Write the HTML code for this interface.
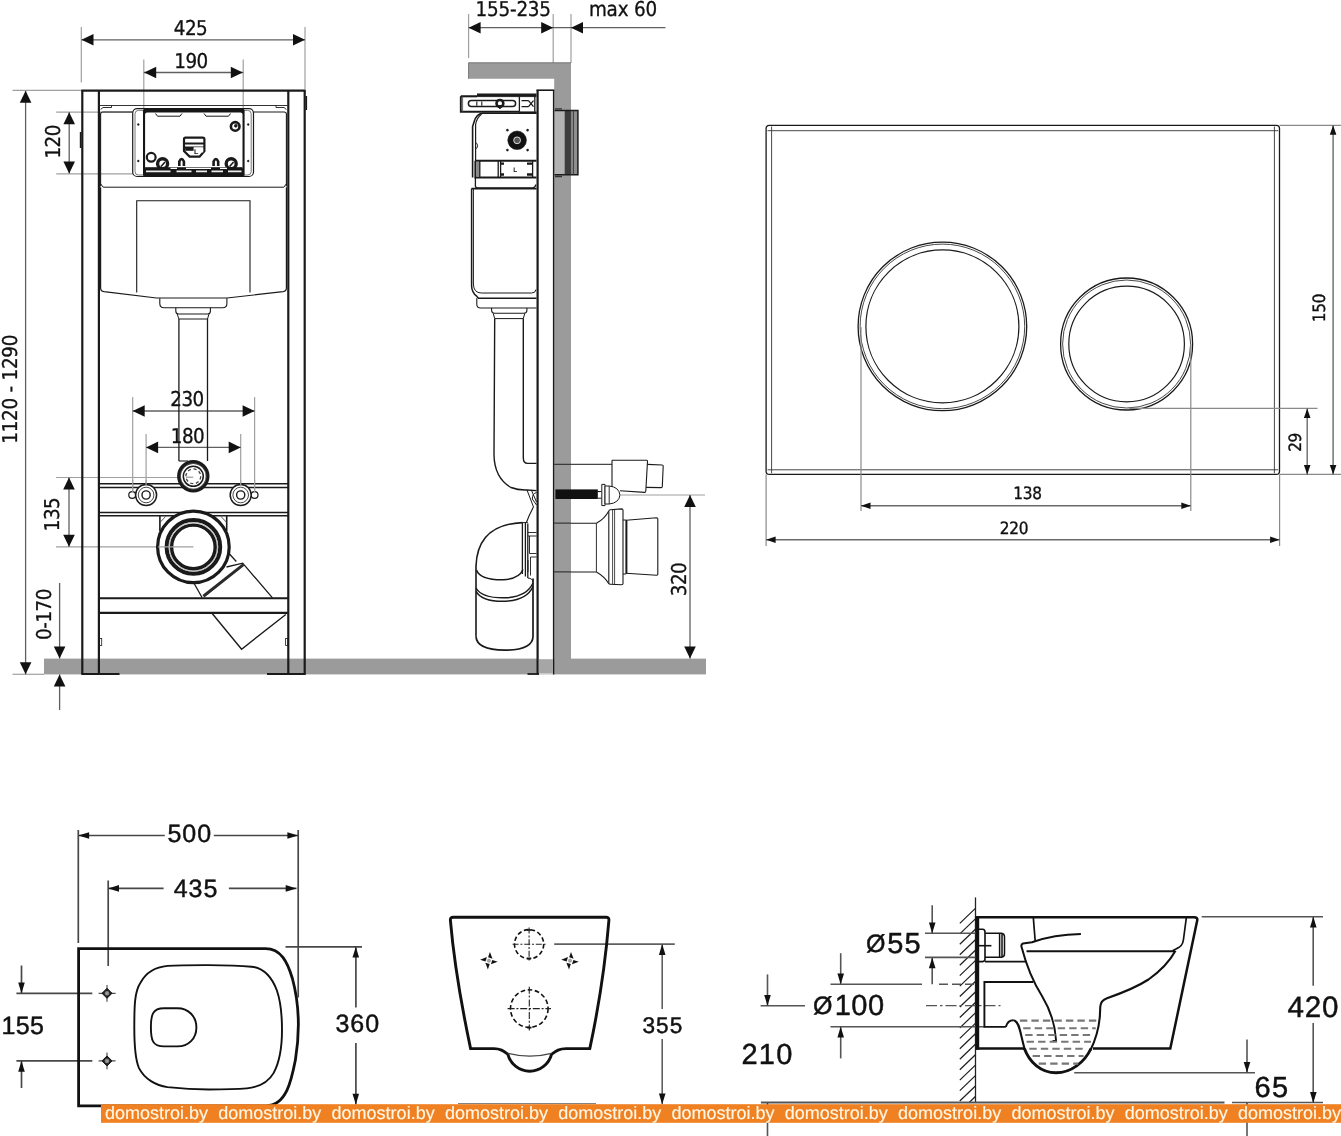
<!DOCTYPE html>
<html lang="en"><head><meta charset="utf-8"><style>html,body{margin:0;padding:0;background:#fff;overflow:hidden}svg{display:block;will-change:transform}text{text-rendering:geometricPrecision}</style>
</head><body>
<svg width="1341" height="1136" viewBox="0 0 1341 1136">
<rect width="1341" height="1136" fill="#fff"/>
<!-- front view of installation frame -->
<rect x="44" y="658.6" width="662" height="15.8" fill="#9b9b9b"/>
<line x1="81.3" y1="27" x2="81.3" y2="82.5" stroke="#a0a0a0" stroke-width="1.2"/>
<line x1="305" y1="27" x2="305" y2="89" stroke="#a0a0a0" stroke-width="1.2"/>
<line x1="143.8" y1="59.5" x2="143.8" y2="110" stroke="#a0a0a0" stroke-width="1.2"/>
<line x1="243.2" y1="59.5" x2="243.2" y2="110" stroke="#a0a0a0" stroke-width="1.2"/>
<line x1="81.6" y1="39.8" x2="305" y2="39.8" stroke="#606060" stroke-width="1.3"/>
<polygon points="81.5,39.8 93.5,34 93.5,45.6" fill="#111"/>
<polygon points="305,39.8 293,34 293,45.6" fill="#111"/>
<line x1="143.8" y1="72.5" x2="243.2" y2="72.5" stroke="#606060" stroke-width="1.3"/>
<polygon points="144.2,72.5 156.2,66.7 156.2,78.3" fill="#111"/>
<polygon points="242.8,72.5 230.8,66.7 230.8,78.3" fill="#111"/>
<text x="190.5" y="34.5" font-family='"DejaVu Sans Condensed", "Liberation Sans", sans-serif' font-size="20.4" text-anchor="middle" fill="#111"  stroke="#111" stroke-width="0.3" letter-spacing="-0.5">425</text>
<text x="191" y="67.5" font-family='"DejaVu Sans Condensed", "Liberation Sans", sans-serif' font-size="20.4" text-anchor="middle" fill="#111"  stroke="#111" stroke-width="0.3" letter-spacing="-0.5">190</text>
<line x1="12.5" y1="90.3" x2="82" y2="90.3" stroke="#a0a0a0" stroke-width="1.2"/>
<line x1="12.5" y1="674.3" x2="44" y2="674.3" stroke="#a0a0a0" stroke-width="1.2"/>
<line x1="25.6" y1="90.8" x2="25.6" y2="674.3" stroke="#606060" stroke-width="1.3"/>
<polygon points="25.6,90.8 19.8,102.8 31.4,102.8" fill="#111"/>
<polygon points="25.6,674.3 19.8,662.3 31.4,662.3" fill="#111"/>
<text x="17.4" y="389.3" font-family='"DejaVu Sans Condensed", "Liberation Sans", sans-serif' font-size="20.4" text-anchor="middle" fill="#111" transform="rotate(-90 17.4 389.3)"  stroke="#111" stroke-width="0.3" letter-spacing="-0.25">1120 - 1290</text>
<line x1="56.2" y1="112.1" x2="134" y2="112.1" stroke="#a0a0a0" stroke-width="1.2"/>
<line x1="56.2" y1="173.8" x2="134" y2="173.8" stroke="#a0a0a0" stroke-width="1.2"/>
<line x1="69.2" y1="112.2" x2="69.2" y2="173.6" stroke="#606060" stroke-width="1.3"/>
<polygon points="69.2,112.2 63.4,124.2 75,124.2" fill="#111"/>
<polygon points="69.2,173.6 63.4,161.6 75,161.6" fill="#111"/>
<text x="60.1" y="141.8" font-family='"DejaVu Sans Condensed", "Liberation Sans", sans-serif' font-size="20.4" text-anchor="middle" fill="#111" transform="rotate(-90 60.1 141.8)"  stroke="#111" stroke-width="0.3" letter-spacing="-0.5">120</text>
<line x1="132.7" y1="397" x2="132.7" y2="493" stroke="#a0a0a0" stroke-width="1.2"/>
<line x1="254.6" y1="397" x2="254.6" y2="493" stroke="#a0a0a0" stroke-width="1.2"/>
<line x1="146.1" y1="434" x2="146.1" y2="486" stroke="#a0a0a0" stroke-width="1.2"/>
<line x1="240.7" y1="434" x2="240.7" y2="486" stroke="#a0a0a0" stroke-width="1.2"/>
<line x1="132.7" y1="411" x2="254.6" y2="411" stroke="#606060" stroke-width="1.3"/>
<polygon points="132.7,411 144.7,405.2 144.7,416.8" fill="#111"/>
<polygon points="254.6,411 242.6,405.2 242.6,416.8" fill="#111"/>
<line x1="146.1" y1="447.4" x2="240.7" y2="447.4" stroke="#606060" stroke-width="1.3"/>
<polygon points="146.1,447.4 158.1,441.6 158.1,453.2" fill="#111"/>
<polygon points="240.7,447.4 228.7,441.6 228.7,453.2" fill="#111"/>
<text x="187" y="405.5" font-family='"DejaVu Sans Condensed", "Liberation Sans", sans-serif' font-size="20.4" text-anchor="middle" fill="#111"  stroke="#111" stroke-width="0.3" letter-spacing="-0.5">230</text>
<text x="187.5" y="442.5" font-family='"DejaVu Sans Condensed", "Liberation Sans", sans-serif' font-size="20.4" text-anchor="middle" fill="#111"  stroke="#111" stroke-width="0.3" letter-spacing="-0.5">180</text>
<line x1="56" y1="477.5" x2="178" y2="477.5" stroke="#a0a0a0" stroke-width="1.2"/>
<line x1="56" y1="546.8" x2="193.4" y2="546.8" stroke="#a0a0a0" stroke-width="1.2"/>
<line x1="69" y1="477.5" x2="69" y2="546.8" stroke="#606060" stroke-width="1.3"/>
<polygon points="69,477.5 63.2,489.5 74.8,489.5" fill="#111"/>
<polygon points="69,546.8 63.2,534.8 74.8,534.8" fill="#111"/>
<text x="59" y="514.5" font-family='"DejaVu Sans Condensed", "Liberation Sans", sans-serif' font-size="20.4" text-anchor="middle" fill="#111" transform="rotate(-90 59 514.5)"  stroke="#111" stroke-width="0.3" letter-spacing="-0.5">135</text>
<line x1="59.6" y1="583" x2="59.6" y2="658.6" stroke="#606060" stroke-width="1.3"/>
<polygon points="59.6,658.6 53.8,646.6 65.4,646.6" fill="#111"/>
<line x1="59.6" y1="674.4" x2="59.6" y2="710" stroke="#606060" stroke-width="1.3"/>
<polygon points="59.6,674.4 53.8,686.4 65.4,686.4" fill="#111"/>
<text x="50.5" y="614.5" font-family='"DejaVu Sans Condensed", "Liberation Sans", sans-serif' font-size="20.4" text-anchor="middle" fill="#111" transform="rotate(-90 50.5 614.5)"  stroke="#111" stroke-width="0.3" letter-spacing="-0.5">0-170</text>
<line x1="82.3" y1="90.7" x2="82.3" y2="674.5" stroke="#1a1a1a" stroke-width="2.2"/>
<line x1="98.9" y1="91" x2="98.9" y2="674.5" stroke="#1a1a1a" stroke-width="2.2"/>
<line x1="288.3" y1="91" x2="288.3" y2="674.5" stroke="#1a1a1a" stroke-width="2.2"/>
<line x1="304.7" y1="90.7" x2="304.7" y2="674.5" stroke="#1a1a1a" stroke-width="2.2"/>
<line x1="81.3" y1="90.7" x2="305.7" y2="90.7" stroke="#1a1a1a" stroke-width="2.2"/>
<line x1="81.4" y1="674" x2="119.5" y2="674" stroke="#1a1a1a" stroke-width="1.8"/>
<line x1="267" y1="674" x2="305.6" y2="674" stroke="#1a1a1a" stroke-width="1.8"/>
<line x1="306.3" y1="96" x2="306.3" y2="110" stroke="#1a1a1a" stroke-width="1.6"/>
<line x1="80.6" y1="132" x2="80.6" y2="148" stroke="#1a1a1a" stroke-width="1.6"/>
<rect x="99.5" y="638.5" width="2.2" height="7" rx="0" fill="none" stroke="#1a1a1a" stroke-width="0.8"/>
<rect x="285.6" y="638.5" width="2.2" height="7" rx="0" fill="none" stroke="#1a1a1a" stroke-width="0.8"/>
<line x1="99.5" y1="105.5" x2="287.7" y2="105.5" stroke="#333" stroke-width="1.2"/>
<path d="M100.6,186.5 V114 Q100.6,112 103,112 H132.7" fill="none" stroke="#1a1a1a" stroke-width="1.1"/>
<path d="M253.5,112 H284 Q286.4,112 286.4,114 V186.5" fill="none" stroke="#1a1a1a" stroke-width="1.1"/>
<path d="M100.6,109.5 L103,107.5 H111.5 V105.3 M286.4,109.5 L284,107.5 H276 V105.3" fill="none" stroke="#1a1a1a" stroke-width="0.9"/>
<path d="M100.6,183.8 L103.2,187.2 H283.8 L286.4,183.8" fill="none" stroke="#1a1a1a" stroke-width="1"/>
<rect x="132.7" y="108.7" width="120.8" height="67.8" rx="4.5" fill="#fff" stroke="#1a1a1a" stroke-width="1.2"/>
<rect x="135" y="110.4" width="116.2" height="64.6" rx="3.5" fill="none" stroke="#555" stroke-width="0.8"/>
<rect x="143" y="108.6" width="101.6" height="68.2" rx="2.6" fill="#161616"/>
<rect x="145.1" y="112.4" width="97.4" height="57" rx="2" fill="#fff"/>
<path d="M155.5,113.5 L157.5,116.2 H180 L182,113.5 M204,113.5 L206,116.2 H228.5 L230.5,113.5" fill="none" stroke="#1a1a1a" stroke-width="1"/>
<circle cx="138.3" cy="124.5" r="0.9" fill="#1a1a1a" stroke="#1a1a1a" stroke-width="0.5"/>
<circle cx="138.3" cy="161" r="0.9" fill="#1a1a1a" stroke="#1a1a1a" stroke-width="0.5"/>
<circle cx="248.2" cy="124.5" r="0.9" fill="#1a1a1a" stroke="#1a1a1a" stroke-width="0.5"/>
<circle cx="248.2" cy="161" r="0.9" fill="#1a1a1a" stroke="#1a1a1a" stroke-width="0.5"/>
<circle cx="235.2" cy="126.4" r="4.3" fill="#fff" stroke="#1a1a1a" stroke-width="2.6"/>
<circle cx="235.8" cy="125.8" r="1.4" fill="#1a1a1a" stroke="#1a1a1a" stroke-width="0.8"/>
<circle cx="151.2" cy="157.3" r="4.4" fill="#fff" stroke="#1a1a1a" stroke-width="2.2"/>
<circle cx="162.6" cy="163.8" r="5" fill="#fff" stroke="#1a1a1a" stroke-width="3.4"/>
<circle cx="231.2" cy="163.8" r="5" fill="#fff" stroke="#1a1a1a" stroke-width="3.4"/>
<path d="M161,166.5 L165,162 M229.6,166.5 L233.6,162" fill="none" stroke="#1a1a1a" stroke-width="1.6"/>
<path d="M179.3,166 V161.5 Q181.6,156.5 183.9,161.5 V166 M213.6,166 V161.5 Q215.9,156.5 218.2,161.5 V166" fill="none" stroke="#1a1a1a" stroke-width="2.6"/>
<rect x="145.1" y="167.2" width="97.4" height="3" fill="#161616"/>
<path d="M146,171.4 H170.5 M176.5,171.4 H191.5 M196,171.4 H207 M211.5,171.4 H223 M228,171.4 H241.5" fill="none" stroke="#eee" stroke-width="1.7"/>
<path d="M170.5,168.4 H177 M186,168.4 H211 M220,168.4 H227" fill="none" stroke="#fff" stroke-width="1.4"/>
<path d="M185.6,137.6 H202.8 Q204.4,137.6 204.4,139.2 V151 L199.6,156.6 H189.6 L184,151 V139.2 Q184,137.6 185.6,137.6 Z" fill="#fff" stroke="#1a1a1a" stroke-width="2.2"/>
<path d="M184,143.4 H204.4 M184,147.6 H204.4" fill="none" stroke="#1a1a1a" stroke-width="2"/>
<rect x="185.2" y="147.6" width="18" height="3.2" fill="#1a1a1a"/>
<rect x="193.6" y="147.2" width="9.6" height="5.2" fill="#fff"/>
<text x="196.2" y="153.8" font-family='"Liberation Sans", sans-serif' font-size="7" text-anchor="middle" fill="#111" font-weight="bold">L</text>
<path d="M100.6,187.2 V288 Q100.6,291.2 104,291.7 L156.5,298 H227 L283,291.7 Q286.4,291.2 286.4,288 V187.2" fill="none" stroke="#1a1a1a" stroke-width="1.2"/>
<path d="M136.7,292.5 V200.8 H250 V292.5" fill="none" stroke="#1a1a1a" stroke-width="1.1"/>
<path d="M159.8,298.2 V303.5 Q159.8,307.7 164,307.7 H222.7 Q226.9,307.7 226.9,303.5 V298.2" fill="none" stroke="#1a1a1a" stroke-width="1.1"/>
<path d="M175.8,307.7 V311 Q175.8,314 178.6,314 H207.6 Q210.4,314 210.4,311 V307.7" fill="none" stroke="#1a1a1a" stroke-width="1.1"/>
<path d="M177.2,314 L178.9,319 H207.5 L209,314" fill="none" stroke="#1a1a1a" stroke-width="1"/>
<line x1="178.9" y1="319" x2="178.9" y2="461" stroke="#1a1a1a" stroke-width="1.3"/>
<line x1="207.5" y1="319" x2="207.5" y2="461" stroke="#1a1a1a" stroke-width="1.3"/>
<line x1="178.9" y1="461" x2="188" y2="461" stroke="#1a1a1a" stroke-width="1.1"/>
<line x1="99" y1="483.8" x2="288" y2="483.8" stroke="#1a1a1a" stroke-width="1.5"/>
<line x1="99" y1="487.6" x2="288" y2="487.6" stroke="#1a1a1a" stroke-width="1.5"/>
<line x1="99" y1="512.6" x2="288" y2="512.6" stroke="#1a1a1a" stroke-width="1.5"/>
<line x1="99" y1="515.8" x2="288" y2="515.8" stroke="#1a1a1a" stroke-width="1.5"/>
<circle cx="193.3" cy="476.3" r="14.3" fill="#fff" stroke="#1a1a1a" stroke-width="3.8"/>
<circle cx="193.3" cy="476.3" r="12.9" fill="none" stroke="#888" stroke-width="0.5"/>
<circle cx="193.3" cy="476.3" r="10" fill="none" stroke="#1a1a1a" stroke-width="1.5"/>
<circle cx="193.3" cy="476.3" r="7.4" fill="none" stroke="#444" stroke-width="1.3" stroke-dasharray="3.2 2.6"/>
<line x1="186" y1="477.2" x2="193.3" y2="477.2" stroke="#777" stroke-width="0.9"/>
<circle cx="132.2" cy="495" r="3.4" fill="#fff" stroke="#1a1a1a" stroke-width="1.2"/>
<circle cx="146.1" cy="495" r="10.5" fill="#fff" stroke="#1a1a1a" stroke-width="1.5"/>
<circle cx="146.1" cy="495" r="7.8" fill="none" stroke="#333" stroke-width="0.9"/>
<circle cx="146.1" cy="495" r="4.1" fill="none" stroke="#1a1a1a" stroke-width="1.4"/>
<circle cx="254.6" cy="495" r="3.4" fill="#fff" stroke="#1a1a1a" stroke-width="1.2"/>
<circle cx="240.7" cy="495" r="10.5" fill="#fff" stroke="#1a1a1a" stroke-width="1.5"/>
<circle cx="240.7" cy="495" r="7.8" fill="none" stroke="#333" stroke-width="0.9"/>
<circle cx="240.7" cy="495" r="4.1" fill="none" stroke="#1a1a1a" stroke-width="1.4"/>
<line x1="132.7" y1="480" x2="132.7" y2="492" stroke="#a0a0a0" stroke-width="1.2"/>
<line x1="254.6" y1="480" x2="254.6" y2="492" stroke="#a0a0a0" stroke-width="1.2"/>
<line x1="146.1" y1="480" x2="146.1" y2="486" stroke="#a0a0a0" stroke-width="1.2"/>
<line x1="240.7" y1="480" x2="240.7" y2="486" stroke="#a0a0a0" stroke-width="1.2"/>
<path d="M159.9,516 V531 M226.7,516 V531" fill="none" stroke="#1a1a1a" stroke-width="1.6"/>
<path d="M221,516.5 L226.7,522.5 M165.6,516.5 L159.9,522.5" fill="none" stroke="#444" stroke-width="0.9"/>
<path d="M229.5,554 L236.3,561.5 M226.5,567 L242.7,563.2 L272.5,597.8 M194.3,583.8 L202.2,597.8" fill="none" stroke="#1a1a1a" stroke-width="1.3"/>
<path d="M203.4,596.2 L243.4,564.6" fill="none" stroke="#2a2a2a" stroke-width="3"/>
<path d="M212,613.3 L241.6,649.2 L285.8,614.5" fill="none" stroke="#1a1a1a" stroke-width="1.4"/>
<circle cx="193.4" cy="546.9" r="35.8" fill="#fff" stroke="#1a1a1a" stroke-width="3.2"/>
<circle cx="193.4" cy="546.9" r="26.8" fill="none" stroke="#1a1a1a" stroke-width="4"/>
<circle cx="193.4" cy="546.9" r="24.3" fill="none" stroke="#aaa" stroke-width="0.8"/>
<circle cx="193.4" cy="546.9" r="21.8" fill="none" stroke="#1a1a1a" stroke-width="3.4"/>
<line x1="158" y1="546.9" x2="193.4" y2="546.9" stroke="#a0a0a0" stroke-width="1.2"/>
<line x1="99" y1="598.2" x2="288" y2="598.2" stroke="#1a1a1a" stroke-width="2.1"/>
<line x1="99" y1="612.9" x2="288" y2="612.9" stroke="#1a1a1a" stroke-width="2.2"/>
<!-- side view of installation frame -->
<line x1="468.6" y1="14" x2="468.6" y2="58" stroke="#a0a0a0" stroke-width="1.2"/>
<line x1="553.2" y1="14" x2="553.2" y2="63" stroke="#a0a0a0" stroke-width="1.2"/>
<line x1="571" y1="14" x2="571" y2="63" stroke="#a0a0a0" stroke-width="1.2"/>
<line x1="468.6" y1="27.7" x2="665.5" y2="27.7" stroke="#606060" stroke-width="1.3"/>
<polygon points="468.6,27.7 480.6,21.9 480.6,33.5" fill="#111"/>
<polygon points="553.2,27.7 541.2,21.9 541.2,33.5" fill="#111"/>
<polygon points="571,27.7 583,21.9 583,33.5" fill="#111"/>
<text x="513.2" y="16" font-family='"DejaVu Sans Condensed", "Liberation Sans", sans-serif' font-size="20.4" text-anchor="middle" fill="#111"  stroke="#111" stroke-width="0.3" letter-spacing="-0.2">155-235</text>
<text x="623" y="16" font-family='"DejaVu Sans Condensed", "Liberation Sans", sans-serif' font-size="20.4" text-anchor="middle" fill="#111"  stroke="#111" stroke-width="0.3" letter-spacing="-0.15">max 60</text>
<path d="M468.6,62.8 H571 V659 H554.2 V78.8 H468.6 Z" fill="#9b9b9b" stroke="none" stroke-width="0"/>
<path d="M468.6,78.8 V62.8 H571" fill="none" stroke="#777" stroke-width="1"/>
<rect x="554.6" y="110.5" width="10.6" height="64" fill="#b2b2b2"/>
<rect x="565.2" y="110.5" width="5.4" height="64" fill="#3c3c3c"/>
<rect x="570.6" y="110.5" width="7.2" height="64" fill="#8e8e8e"/>
<path d="M554.6,110.6 H577.9 V174.7 H554.6" fill="none" stroke="#1a1a1a" stroke-width="1.5"/>
<path d="M565.2,110.3 V174.8 M570.6,110.3 V174.8 M573.4,110.3 V174.8" fill="none" stroke="#333" stroke-width="0.9"/>
<path d="M555,108.8 H562 M555,176.5 H562" fill="none" stroke="#333" stroke-width="1.3"/>
<path d="M554.2,464.3 H571 M554.2,523.2 H571 M554.2,571.8 H571" fill="none" stroke="#3a3a3a" stroke-width="1.3"/>
<rect x="537" y="90.2" width="16.6" height="584" fill="#fff"/>
<line x1="537.6" y1="90" x2="537.6" y2="674.5" stroke="#1a1a1a" stroke-width="2.2"/>
<line x1="553.6" y1="90" x2="553.6" y2="674.5" stroke="#1a1a1a" stroke-width="1.4"/>
<line x1="536.5" y1="90.2" x2="554.3" y2="90.2" stroke="#1a1a1a" stroke-width="1.6"/>
<line x1="527.5" y1="674" x2="539" y2="674" stroke="#1a1a1a" stroke-width="1.8"/>
<rect x="539" y="659.2" width="14" height="14.4" fill="#a6a6a6"/>
<path d="M477,94.8 H536.5" fill="none" stroke="#1a1a1a" stroke-width="2.6"/>
<path d="M460.8,96.3 H477 M460.8,96.3 V111.7 H519" fill="none" stroke="#1a1a1a" stroke-width="1.9"/>
<path d="M519,112.6 H536.5" fill="none" stroke="#1a1a1a" stroke-width="2.4"/>
<path d="M460.8,96.6 H536.5" fill="none" stroke="#1a1a1a" stroke-width="1"/>
<path d="M462.6,96.6 V111.7" fill="none" stroke="#555" stroke-width="0.9"/>
<rect x="468.4" y="100.6" width="47.2" height="6" rx="3" fill="none" stroke="#1a1a1a" stroke-width="1.5"/>
<path d="M476.8,101.5 V105.8 M481.8,101.5 V105.8" fill="none" stroke="#1a1a1a" stroke-width="1.1"/>
<circle cx="499.9" cy="103.4" r="3.4" fill="#fff" stroke="#1a1a1a" stroke-width="2.6"/>
<path d="M497.4,105.5 L499.9,109 L502.4,105.5 Z" fill="#1a1a1a" stroke="#1a1a1a" stroke-width="0.8"/>
<path d="M519.4,96.3 V111.7 M521.5,100.6 H528.5 M521.5,106.6 H528.5 M528.5,100.6 L533.5,106.6 M528.5,106.6 L533.5,100.6 M534.8,96.3 V111.7" fill="none" stroke="#1a1a1a" stroke-width="1.3"/>
<path d="M536.5,113.3 H482.5 Q476.5,114 474.2,121.5 L472.6,126.5 V177.5" fill="none" stroke="#1a1a1a" stroke-width="1.6"/>
<path d="M481.5,114.2 Q476.8,117.5 475.6,124.5 V160.8" fill="none" stroke="#1a1a1a" stroke-width="1.2"/>
<path d="M475.4,142.5 Q477.6,143.2 477.6,145.8 Q477.6,148.4 475.4,149" fill="none" stroke="#1a1a1a" stroke-width="0.9"/>
<circle cx="517.1" cy="140.3" r="9.3" fill="#111" stroke="#1a1a1a" stroke-width="0.6"/>
<circle cx="517.1" cy="140.3" r="3.4" fill="#555" stroke="#ddd" stroke-width="1"/>
<circle cx="507.4" cy="130.2" r="1.1" fill="#1a1a1a" stroke="#1a1a1a" stroke-width="0.4"/>
<circle cx="527.6" cy="130.2" r="1.1" fill="#1a1a1a" stroke="#1a1a1a" stroke-width="0.4"/>
<circle cx="507.4" cy="150.1" r="1.1" fill="#1a1a1a" stroke="#1a1a1a" stroke-width="0.4"/>
<circle cx="527.6" cy="150.1" r="1.1" fill="#1a1a1a" stroke="#1a1a1a" stroke-width="0.4"/>
<path d="M475.4,160.8 H536.5 M475.4,160.8 V177.4 H536.5" fill="none" stroke="#1a1a1a" stroke-width="2"/>
<rect x="476.2" y="161.8" width="3.4" height="14.8" fill="#888"/>
<path d="M479.8,161 V177.2 M498.2,161 V177.2 M500.6,161 V177.2 M532.6,161 V177.2" fill="none" stroke="#1a1a1a" stroke-width="1.3"/>
<path d="M500.6,163.6 H504 M500.6,174.5 H504 M527,163.6 H532.6 M527,174.5 H532.6" fill="none" stroke="#1a1a1a" stroke-width="2.4"/>
<text x="515.2" y="171.6" font-family='"Liberation Sans", sans-serif' font-size="6.5" text-anchor="middle" fill="#111" font-weight="bold">L</text>
<path d="M475.4,177.4 V186 Q475.4,187.8 477.5,187.8 H533 Q535.6,187.3 535.8,184.5" fill="none" stroke="#1a1a1a" stroke-width="1.3"/>
<path d="M471.6,188.6 H536.5" fill="none" stroke="#1a1a1a" stroke-width="1.6"/>
<path d="M471.6,188.6 V286 Q471.8,292.5 476.7,296.2 L478.5,298.3 H536.5" fill="none" stroke="#1a1a1a" stroke-width="1.5"/>
<path d="M473.4,189 V284 Q473.6,293 481.5,293 H531.5 Q535.6,293 536,289.5" fill="none" stroke="#1a1a1a" stroke-width="1"/>
<path d="M476.8,298.3 V304.5 Q477,308 480.5,308 H536.5" fill="none" stroke="#1a1a1a" stroke-width="1.1"/>
<path d="M491.6,308 V310.5 Q491.8,313.3 494.7,313.3 H523.8 Q526.7,313.3 526.9,310.5 V308" fill="none" stroke="#1a1a1a" stroke-width="1.1"/>
<path d="M493.2,313.3 L494.7,318.6 H523.3 L524.8,313.3" fill="none" stroke="#1a1a1a" stroke-width="1"/>
<path d="M494.7,318.6 L494,455 Q494.5,478 511,487.5 Q518,490.3 527,490 L536.5,490.6" fill="none" stroke="#1a1a1a" stroke-width="1.4"/>
<path d="M523.3,318.6 V458 Q523.4,463.3 527.5,463.4 H536.5" fill="none" stroke="#1a1a1a" stroke-width="1.4"/>
<path d="M527,490 L533.5,507 M531.5,490.4 L536.5,502" fill="none" stroke="#1a1a1a" stroke-width="1"/>
<path d="M536.5,492.5 Q532.3,493.5 532.3,499 L536.5,505" fill="none" stroke="#1a1a1a" stroke-width="1"/>
<path d="M533.5,507 Q529.5,514 526.5,522.3" fill="none" stroke="#1a1a1a" stroke-width="1.1"/>
<path d="M522.4,522.6 Q477.5,524.5 476,566 V636.4" fill="none" stroke="#1a1a1a" stroke-width="1.6"/>
<path d="M476,636.4 Q476.5,649.8 504.5,650.2 Q532.8,649.8 533,636.4 V578.5" fill="none" stroke="#1a1a1a" stroke-width="1.7"/>
<path d="M522.4,522.6 V574 M525.4,522.6 V576.5 M527.8,523.5 V578" fill="none" stroke="#1a1a1a" stroke-width="1.3"/>
<path d="M522.4,522.6 H527.8" fill="none" stroke="#1a1a1a" stroke-width="1"/>
<path d="M476.5,570 Q480,580 503,579.8 Q519,579 523,569.5" fill="none" stroke="#1a1a1a" stroke-width="1.5"/>
<path d="M476,588 Q482,598.5 506,597.8 Q527,596.5 533,583" fill="none" stroke="#1a1a1a" stroke-width="1.5"/>
<path d="M476,591.3 Q482,602 506,601.2 Q527,600 533,586.5" fill="none" stroke="#1a1a1a" stroke-width="1.5"/>
<path d="M527.8,578 Q532.5,578.3 533,582" fill="none" stroke="#1a1a1a" stroke-width="1"/>
<path d="M527.8,532.5 H536.5 M527.8,536 H536.5 M529.5,536 V553.5 H536.5 M530.5,557 H536.5 M530.5,557 V575.5 M528,560 V572" fill="none" stroke="#1a1a1a" stroke-width="0.9"/>
<path d="M571,464.3 H612 M571,491.6 H600" fill="none" stroke="#1a1a1a" stroke-width="1"/>
<path d="M612,460.2 H646.6 Q647.6,460.3 647.5,461.4 L645.8,491 Q645.7,492.4 644.6,492.4 L620,490.8 M612,460.2 V487" fill="none" stroke="#1a1a1a" stroke-width="1.1"/>
<path d="M647.3,464.4 L662.2,465 Q663.2,465 663.2,466.3 L662.3,486.5 Q662.2,487.6 661.2,487.6 L646.1,487.4" fill="none" stroke="#1a1a1a" stroke-width="1.1"/>
<rect x="555.4" y="489.4" width="42.4" height="9.6" fill="#111"/>
<path d="M597.8,491.5 H601.5 M597.8,498.2 H601.5" fill="none" stroke="#1a1a1a" stroke-width="1"/>
<path d="M601.8,484.4 H605 V505.6 H601.8 Z" fill="#fff" stroke="#1a1a1a" stroke-width="1"/>
<path d="M605,486 H609.2 Q619,487 620,495 Q619,503 609.2,504 H605 Z" fill="#fff" stroke="#1a1a1a" stroke-width="1"/>
<path d="M609.2,486 V504" fill="none" stroke="#1a1a1a" stroke-width="0.9"/>
<line x1="620" y1="495" x2="705" y2="495" stroke="#a0a0a0" stroke-width="1.2"/>
<line x1="690" y1="495" x2="690" y2="658.6" stroke="#606060" stroke-width="1.3"/>
<polygon points="690,495 684.2,507 695.8,507" fill="#111"/>
<polygon points="690,658.6 684.2,646.6 695.8,646.6" fill="#111"/>
<text x="685.5" y="579.5" font-family='"DejaVu Sans Condensed", "Liberation Sans", sans-serif' font-size="20.4" text-anchor="middle" fill="#111" transform="rotate(-90 685.5 579.5)"  stroke="#111" stroke-width="0.3" letter-spacing="-0.5">320</text>
<path d="M571,523.3 H596.4 M571,572 H596.4" fill="none" stroke="#1a1a1a" stroke-width="1.1"/>
<path d="M596.4,523.3 V572" fill="none" stroke="#1a1a1a" stroke-width="0.9"/>
<path d="M596.4,523.3 Q604.5,519 608.8,511 M596.4,572 Q604.5,576.5 608.8,583.8" fill="none" stroke="#1a1a1a" stroke-width="1.1"/>
<path d="M608.8,511 Q609,509.8 610.3,509.7 L621.6,508.9 Q623,508.9 623,510.2 V583.6 Q623,584.8 621.6,584.8 L610.3,584.3 Q609,584.3 608.8,583.2 Z" fill="#fff" stroke="#1a1a1a" stroke-width="1.1"/>
<path d="M612.6,509.6 V584.3 M614.6,509.5 V584.4" fill="none" stroke="#1a1a1a" stroke-width="0.8"/>
<path d="M623,520 H626 V574 H623" fill="none" stroke="#1a1a1a" stroke-width="1"/>
<path d="M626,520.3 L656.6,517.8 Q657.8,517.8 657.8,519 V574 Q657.8,575.3 656.6,575.2 L626,573.3" fill="none" stroke="#1a1a1a" stroke-width="1.1"/>
<line x1="626.6" y1="520.3" x2="626.6" y2="573.5" stroke="#1a1a1a" stroke-width="1.6"/>
<!-- flush plate -->
<rect x="766.1" y="125.3" width="513.4" height="349.1" rx="3.2" fill="none" stroke="#1a1a1a" stroke-width="1.3"/>
<path d="M767.5,130.7 H1278.2 M767.5,469.8 H1278.2 M771.6,126.5 V473.2 M1274.4,126.5 V473.2" fill="none" stroke="#333" stroke-width="0.9"/>
<circle cx="942.4" cy="326.4" r="84.3" fill="none" stroke="#1a1a1a" stroke-width="1.3"/>
<circle cx="942.4" cy="326.4" r="82.3" fill="none" stroke="#333" stroke-width="0.9"/>
<circle cx="942.4" cy="326.4" r="76.5" fill="none" stroke="#1a1a1a" stroke-width="1.2"/>
<circle cx="1126.6" cy="344" r="66" fill="none" stroke="#1a1a1a" stroke-width="1.3"/>
<circle cx="1126.6" cy="344" r="64" fill="none" stroke="#333" stroke-width="0.9"/>
<circle cx="1126.6" cy="344" r="57.8" fill="none" stroke="#1a1a1a" stroke-width="1.2"/>
<line x1="861" y1="327" x2="861" y2="511" stroke="#8a8a8a" stroke-width="1.2"/>
<line x1="1190.8" y1="344" x2="1190.8" y2="511" stroke="#8a8a8a" stroke-width="1.2"/>
<line x1="861" y1="505.7" x2="1190.8" y2="505.7" stroke="#6a6a6a" stroke-width="1.4"/>
<polygon points="861,505.7 870.5,502.4 870.5,509" fill="#111"/>
<polygon points="1190.8,505.7 1181.3,502.4 1181.3,509" fill="#111"/>
<text x="1027.5" y="498.8" font-family='"DejaVu Sans Condensed", "Liberation Sans", sans-serif' font-size="17" text-anchor="middle" fill="#111"  stroke="#111" stroke-width="0.35" letter-spacing="-0.3">138</text>
<line x1="766.1" y1="474.4" x2="766.1" y2="546" stroke="#8a8a8a" stroke-width="1.2"/>
<line x1="1279.6" y1="474.4" x2="1279.6" y2="546" stroke="#8a8a8a" stroke-width="1.2"/>
<line x1="766.1" y1="539.8" x2="1279.6" y2="539.8" stroke="#6a6a6a" stroke-width="1.4"/>
<polygon points="766.1,539.8 775.6,536.5 775.6,543.1" fill="#111"/>
<polygon points="1279.6,539.8 1270.1,536.5 1270.1,543.1" fill="#111"/>
<text x="1014" y="534.2" font-family='"DejaVu Sans Condensed", "Liberation Sans", sans-serif' font-size="17" text-anchor="middle" fill="#111"  stroke="#111" stroke-width="0.35" letter-spacing="-0.3">220</text>
<line x1="1279.6" y1="125.3" x2="1341" y2="125.3" stroke="#8a8a8a" stroke-width="1.2"/>
<line x1="1279.6" y1="474.4" x2="1341" y2="474.4" stroke="#8a8a8a" stroke-width="1.2"/>
<line x1="1333.1" y1="125.3" x2="1333.1" y2="474.4" stroke="#6a6a6a" stroke-width="1.4"/>
<polygon points="1333.1,125.3 1329.8,134.8 1336.4,134.8" fill="#111"/>
<polygon points="1333.1,474.4 1329.8,464.9 1336.4,464.9" fill="#111"/>
<text x="1325.3" y="308" font-family='"DejaVu Sans Condensed", "Liberation Sans", sans-serif' font-size="17" text-anchor="middle" fill="#111" transform="rotate(-90 1325.3 308)"  stroke="#111" stroke-width="0.35" letter-spacing="-0.3">150</text>
<line x1="1129" y1="408.4" x2="1317.5" y2="408.4" stroke="#8a8a8a" stroke-width="1.2"/>
<line x1="1307.2" y1="408.4" x2="1307.2" y2="474.4" stroke="#6a6a6a" stroke-width="1.4"/>
<polygon points="1307.2,408.4 1303.9,417.9 1310.5,417.9" fill="#111"/>
<polygon points="1307.2,474.4 1303.9,464.9 1310.5,464.9" fill="#111"/>
<text x="1300.6" y="442.4" font-family='"DejaVu Sans Condensed", "Liberation Sans", sans-serif' font-size="17" text-anchor="middle" fill="#111" transform="rotate(-90 1300.6 442.4)"  stroke="#111" stroke-width="0.35" letter-spacing="-0.3">29</text>
<!-- toilet top view -->
<line x1="78.3" y1="830" x2="78.3" y2="943" stroke="#484848" stroke-width="1.7"/>
<line x1="298.2" y1="830" x2="298.2" y2="997.5" stroke="#484848" stroke-width="1.7"/>
<line x1="108.2" y1="880.5" x2="108.2" y2="966" stroke="#484848" stroke-width="1.7"/>
<line x1="78.3" y1="835.5" x2="164.8" y2="835.5" stroke="#484848" stroke-width="1.7"/>
<line x1="213.8" y1="835.5" x2="298.2" y2="835.5" stroke="#484848" stroke-width="1.7"/>
<polygon points="78.3,835.5 89.1,832.2 89.1,838.8" fill="#111"/>
<polygon points="298.2,835.5 287.4,832.2 287.4,838.8" fill="#111"/>
<text x="189.8" y="842.3" font-family='"Liberation Sans", sans-serif' font-size="25" text-anchor="middle" fill="#111"  stroke="#111" stroke-width="0.45" letter-spacing="1">500</text>
<line x1="108.2" y1="888.4" x2="163.6" y2="888.4" stroke="#484848" stroke-width="1.7"/>
<line x1="228.9" y1="888.4" x2="296.5" y2="888.4" stroke="#484848" stroke-width="1.7"/>
<polygon points="108.2,888.4 119,885.1 119,891.7" fill="#111"/>
<polygon points="296.5,888.4 285.7,885.1 285.7,891.7" fill="#111"/>
<text x="196" y="896.7" font-family='"Liberation Sans", sans-serif' font-size="25" text-anchor="middle" fill="#111"  stroke="#111" stroke-width="0.45" letter-spacing="1">435</text>
<line x1="16.4" y1="993.3" x2="92.3" y2="993.3" stroke="#484848" stroke-width="1.7"/>
<line x1="16.4" y1="1060.9" x2="92.3" y2="1060.9" stroke="#484848" stroke-width="1.7"/>
<line x1="21.5" y1="965.5" x2="21.5" y2="993.3" stroke="#484848" stroke-width="1.7"/>
<polygon points="21.5,993.3 18.2,982.5 24.8,982.5" fill="#111"/>
<line x1="21.5" y1="1060.9" x2="21.5" y2="1088" stroke="#484848" stroke-width="1.7"/>
<polygon points="21.5,1060.9 18.2,1071.7 24.8,1071.7" fill="#111"/>
<text x="22.8" y="1033.9" font-family='"Liberation Sans", sans-serif' font-size="25" text-anchor="middle" fill="#111"  stroke="#111" stroke-width="0.45" letter-spacing="0.3">155</text>
<line x1="285.5" y1="946.8" x2="362" y2="946.8" stroke="#484848" stroke-width="1.7"/>
<line x1="355.9" y1="946.8" x2="355.9" y2="1007.6" stroke="#484848" stroke-width="1.7"/>
<line x1="355.9" y1="1043" x2="355.9" y2="1104.5" stroke="#484848" stroke-width="1.7"/>
<polygon points="355.8,946.8 352.5,957.6 359.1,957.6" fill="#111"/>
<polygon points="355.8,1104.5 352.5,1093.7 359.1,1093.7" fill="#111"/>
<text x="357.8" y="1032.2" font-family='"Liberation Sans", sans-serif' font-size="25" text-anchor="middle" fill="#111"  stroke="#111" stroke-width="0.45" letter-spacing="1">360</text>
<path d="M78.6,948.6 H265.5 C281,948.6 287.5,962 292.4,978.5 C299,1003 300,1032 295.4,1060 C291.5,1080 286.5,1105.8 266,1105.8 H78.6 Z" fill="none" stroke="#111" stroke-width="2.8" stroke-linejoin="miter"/>
<path d="M134.3,1027.5 C134.3,1006 134.5,991.5 140.6,982.5 C146,972.5 156,967 167.5,965.9 C181,965 195,965.1 208.7,965.1 C223,965.1 238,965.3 251.5,966.7 C261.5,967.8 271,975 276.9,990.5 C280.5,1001 282,1015 282,1030 C282,1046 279.5,1062 273.7,1072.9 C268,1083 258,1087.2 246.8,1088.4 C234,1089.5 221,1089.5 208.7,1089.5 C195,1089.5 181,1088.6 167.5,1087.1 C156,1085.5 144.5,1079 139,1068.1 C135,1059 134.3,1045 134.3,1027.5 Z" fill="none" stroke="#111" stroke-width="1.9"/>
<path d="M150.9,1027.3 C150.9,1015 152.5,1008.2 164,1008.2 H177.5 C188.5,1008.2 196.4,1016.5 196.4,1027.4 C196.4,1038.5 188.5,1046.4 177.5,1046.4 H164 C152.5,1046.4 150.9,1040 150.9,1027.3 Z" fill="none" stroke="#111" stroke-width="1.9"/>
<path d="M107,984.9 V1001.7 M98.6,993.3 H115.6" fill="none" stroke="#555" stroke-width="1.2"/>
<path d="M107,988.3 L112,993.3 L107,998.3 L102,993.3 Z" fill="#222" stroke="#111" stroke-width="1"/>
<circle cx="107" cy="993.3" r="2" fill="#999" stroke="#888" stroke-width="0.6"/>
<path d="M107,1052.5 V1069.3 M98.6,1060.9 H115.6" fill="none" stroke="#555" stroke-width="1.2"/>
<path d="M107,1055.9 L112,1060.9 L107,1065.9 L102,1060.9 Z" fill="#222" stroke="#111" stroke-width="1"/>
<circle cx="107" cy="1060.9" r="2" fill="#999" stroke="#888" stroke-width="0.6"/>
<!-- toilet back view -->
<line x1="554.2" y1="944.1" x2="674.8" y2="944.1" stroke="#606060" stroke-width="1.6"/>
<line x1="662.2" y1="944.1" x2="662.2" y2="1008.9" stroke="#606060" stroke-width="1.6"/>
<line x1="662.2" y1="1038.9" x2="662.2" y2="1104.3" stroke="#606060" stroke-width="1.6"/>
<polygon points="662.2,944.1 658.9,954.9 665.5,954.9" fill="#111"/>
<polygon points="662.2,1104.3 658.9,1093.5 665.5,1093.5" fill="#111"/>
<text x="662.9" y="1033.3" font-family='"Liberation Sans", sans-serif' font-size="22.6" text-anchor="middle" fill="#111"  stroke="#111" stroke-width="0.45" letter-spacing="1">355</text>
<line x1="458" y1="1103.6" x2="596" y2="1103.6" stroke="#777" stroke-width="1"/>
<path d="M453.2,917.3 H606 Q609.2,917.3 608.9,920.4 C605.5,962 598.5,1008 589.8,1048.6 H566 C559,1048.6 556,1051 551.6,1054.2 A22.6,22.6 0 0 1 507.8,1054.2 C503.5,1051 500.5,1048.6 494,1048.6 H470.6 C462,1008 454,962 450.4,920.4 Q450.1,917.3 453.2,917.3 Z" fill="none" stroke="#111" stroke-width="2.9"/>
<path d="M507.8,1053.4 Q529.7,1059 551.6,1053.4" fill="none" stroke="#444" stroke-width="1.3"/>
<circle cx="529.1" cy="944.2" r="14.6" fill="none" stroke="#111" stroke-width="1.6" stroke-dasharray="4.4 2.6"/>
<circle cx="529.3" cy="1008.6" r="18.8" fill="none" stroke="#111" stroke-width="1.6" stroke-dasharray="4.6 2.6"/>
<path d="M512.6,944.2 H545.6 M529.1,927.6 V960.8" fill="none" stroke="#222" stroke-width="1.1" stroke-dasharray="6 1.8 2 1.8"/>
<path d="M507.6,1008.6 H551 M529.3,986.8 V1030.4" fill="none" stroke="#222" stroke-width="1.1" stroke-dasharray="7 1.8 2 1.8"/>
<path d="M526.9,930 H531.3 M526.9,958.4 H531.3 M527.1,1027.6 H531.5" fill="none" stroke="#111" stroke-width="1.6"/>
<polygon points="-8.8,-1 -2,-3.6 -3.4,0.8" fill="#111" transform="translate(488.9 960.7) rotate(0)"/>
<polygon points="-8.8,-1 -2,-3.6 -3.4,0.8" fill="#111" transform="translate(488.9 960.7) rotate(90)"/>
<polygon points="-8.8,-1 -2,-3.6 -3.4,0.8" fill="#111" transform="translate(488.9 960.7) rotate(180)"/>
<polygon points="-8.8,-1 -2,-3.6 -3.4,0.8" fill="#111" transform="translate(488.9 960.7) rotate(270)"/>
<circle cx="488.9" cy="960.7" r="1.6" fill="#aaa" stroke="#777" stroke-width="0.5"/>
<polygon points="-8.8,-1 -2,-3.6 -3.4,0.8" fill="#111" transform="translate(570 960.7) rotate(0)"/>
<polygon points="-8.8,-1 -2,-3.6 -3.4,0.8" fill="#111" transform="translate(570 960.7) rotate(90)"/>
<polygon points="-8.8,-1 -2,-3.6 -3.4,0.8" fill="#111" transform="translate(570 960.7) rotate(180)"/>
<polygon points="-8.8,-1 -2,-3.6 -3.4,0.8" fill="#111" transform="translate(570 960.7) rotate(270)"/>
<circle cx="570" cy="960.7" r="1.6" fill="#aaa" stroke="#777" stroke-width="0.5"/>
<!-- toilet side view -->
<clipPath id="hc"><rect x="955" y="897" width="21" height="205.5"/></clipPath>
<path d="M959.8,923.4 L975.4,908.4 M959.8,933.85 L975.4,918.85 M959.8,944.3 L975.4,929.3 M959.8,954.75 L975.4,939.75 M959.8,965.2 L975.4,950.2 M959.8,975.65 L975.4,960.65 M959.8,986.1 L975.4,971.1 M959.8,996.55 L975.4,981.55 M959.8,1007 L975.4,992 M959.8,1017.45 L975.4,1002.45 M959.8,1027.9 L975.4,1012.9 M959.8,1038.35 L975.4,1023.35 M959.8,1048.8 L975.4,1033.8 M959.8,1059.25 L975.4,1044.25 M959.8,1069.7 L975.4,1054.7 M959.8,1080.15 L975.4,1065.15 M959.8,1090.6 L975.4,1075.6 M959.8,1101.05 L975.4,1086.05 M959.8,1111.5 L975.4,1096.5" fill="none" stroke="#222" stroke-width="1.25" clip-path="url(#hc)"/>
<line x1="975.5" y1="897.4" x2="975.5" y2="1102.5" stroke="#222" stroke-width="1.3"/>
<line x1="760.9" y1="1102.4" x2="1224.5" y2="1102.4" stroke="#555" stroke-width="2"/>
<line x1="1232" y1="1102.6" x2="1323" y2="1102.6" stroke="#555" stroke-width="1.5"/>
<line x1="925" y1="933.2" x2="979" y2="933.2" stroke="#555" stroke-width="1.6"/>
<line x1="925" y1="957.4" x2="979" y2="957.4" stroke="#555" stroke-width="1.6"/>
<line x1="932.2" y1="905.2" x2="932.2" y2="933.2" stroke="#555" stroke-width="1.6"/>
<polygon points="932.2,933.2 928.9,922.4 935.5,922.4" fill="#111"/>
<line x1="932.2" y1="957.4" x2="932.2" y2="984.2" stroke="#555" stroke-width="1.6"/>
<polygon points="932.2,957.4 928.9,968.2 935.5,968.2" fill="#111"/>
<text x="865.9" y="953.2" font-family='"Liberation Sans", sans-serif' fill="#111" stroke="#111" stroke-width="0.45" letter-spacing="1.2"><tspan font-size="25" dy="-1.2">Ø</tspan><tspan font-size="29" dx="0.6" dy="1.2">55</tspan></text>
<line x1="830.5" y1="984.2" x2="922" y2="984.2" stroke="#555" stroke-width="1.6"/>
<line x1="939" y1="984.2" x2="979" y2="984.2" stroke="#555" stroke-width="1.6" stroke-dasharray="9 4"/>
<line x1="830.5" y1="1026.8" x2="984.7" y2="1026.8" stroke="#555" stroke-width="1.6"/>
<line x1="840.7" y1="953.2" x2="840.7" y2="984.2" stroke="#555" stroke-width="1.6"/>
<polygon points="840.7,984.2 837.4,973.4 844,973.4" fill="#111"/>
<line x1="840.7" y1="1026.8" x2="840.7" y2="1058.4" stroke="#555" stroke-width="1.6"/>
<polygon points="840.7,1026.8 837.4,1037.6 844,1037.6" fill="#111"/>
<text x="813.1" y="1014.8" font-family='"Liberation Sans", sans-serif' fill="#111" stroke="#111" stroke-width="0.45" letter-spacing="0.5"><tspan font-size="25" dy="-1.2">Ø</tspan><tspan font-size="29" dx="1.6" dy="1.2">100</tspan></text>
<line x1="760.6" y1="1005.8" x2="805" y2="1005.8" stroke="#555" stroke-width="1.6"/>
<line x1="767.5" y1="974.4" x2="767.5" y2="1005.8" stroke="#555" stroke-width="1.6"/>
<polygon points="767.5,1005.8 764.2,995 770.8,995" fill="#111"/>
<line x1="767.5" y1="1102.9" x2="767.5" y2="1136" stroke="#555" stroke-width="1.6"/>
<polygon points="767.5,1102.9 764.2,1113.7 770.8,1113.7" fill="#111"/>
<text x="767.6" y="1064.4" font-family='"Liberation Sans", sans-serif' font-size="29" text-anchor="middle" fill="#111"  stroke="#111" stroke-width="0.45" letter-spacing="1.3">210</text>
<line x1="926" y1="1005.6" x2="1000.5" y2="1005.6" stroke="#555" stroke-width="1.2" stroke-dasharray="11 3 2.5 3"/>
<line x1="1201.7" y1="916.7" x2="1323" y2="916.7" stroke="#555" stroke-width="1.6"/>
<line x1="1313.2" y1="916.7" x2="1313.2" y2="985.7" stroke="#555" stroke-width="1.6"/>
<line x1="1313.2" y1="1023" x2="1313.2" y2="1102.9" stroke="#555" stroke-width="1.6"/>
<polygon points="1313.3,916.7 1310,927.5 1316.6,927.5" fill="#111"/>
<polygon points="1313.3,1102.9 1310,1092.1 1316.6,1092.1" fill="#111"/>
<text x="1313.4" y="1016.9" font-family='"Liberation Sans", sans-serif' font-size="29.6" text-anchor="middle" fill="#111"  stroke="#111" stroke-width="0.45" letter-spacing="0.8">420</text>
<line x1="1074.2" y1="1072.8" x2="1255" y2="1072.8" stroke="#555" stroke-width="1.6"/>
<line x1="1247" y1="1039.4" x2="1247" y2="1072.8" stroke="#555" stroke-width="1.6"/>
<polygon points="1247,1072.8 1243.7,1062 1250.3,1062" fill="#111"/>
<line x1="1247" y1="1102.9" x2="1247" y2="1136" stroke="#555" stroke-width="1.6"/>
<polygon points="1247,1102.9 1243.7,1113.7 1250.3,1113.7" fill="#111"/>
<text x="1272" y="1096.6" font-family='"Liberation Sans", sans-serif' font-size="29" text-anchor="middle" fill="#111"  stroke="#111" stroke-width="0.45" letter-spacing="1.3">65</text>
<path d="M977.4,1048.5 V917.2 H1194.2 Q1197.9,917.2 1197.2,920.6 L1170.3,1048.5 H1093" fill="none" stroke="#111" stroke-width="2.5" stroke-linejoin="miter"/>
<line x1="977.4" y1="916" x2="977.4" y2="1049.7" stroke="#111" stroke-width="3.6"/>
<line x1="976" y1="1048.5" x2="1024" y2="1048.5" stroke="#111" stroke-width="2.5"/>
<path d="M1013.2,1020.2 C1018,1020.2 1019.8,1029 1021.6,1037 C1023,1043 1024,1047 1025.1,1050.5" fill="none" stroke="#111" stroke-width="2.1"/>
<path d="M1024.4,1048.5 C1029.5,1062.5 1041,1072.8 1056,1072.8 C1071,1072.8 1084.5,1062.5 1091,1048.5" fill="none" stroke="#111" stroke-width="2.9"/>
<path d="M1090.3,1050.5 C1095.5,1040 1098.8,1028 1099.8,1017 L1100.3,1006.5 C1100.7,1001.5 1103,999.6 1107,998.2 C1122,993 1138,986.3 1148.5,979.5 C1160,971.5 1169.5,961.5 1175.5,950.8" fill="none" stroke="#111" stroke-width="2.1"/>
<path d="M1005.8,1026.9 C1007.2,1022.2 1009.2,1020.2 1013.2,1020.2" fill="none" stroke="#111" stroke-width="2"/>
<path d="M1026.5,951.2 H1175" fill="none" stroke="#111" stroke-width="1.9"/>
<path d="M1186.3,918 L1183.4,940 Q1182.6,946 1177,948.4 L1172.5,950.8" fill="none" stroke="#111" stroke-width="1.7"/>
<path d="M1080.9,934.1 C1060,934.6 1042,938.8 1032,942.2 L1023,943.5 Q1020.8,944.3 1021.5,946.8 C1027,968 1035,985 1042,996 C1049.5,1008.5 1055.2,1024 1056.1,1041 H1052.5" fill="none" stroke="#111" stroke-width="2"/>
<path d="M1033.3,917.3 L1035.2,941.2" fill="none" stroke="#111" stroke-width="1.7"/>
<path d="M978,929.3 H982.6 Q985,929.5 985,932 V959 Q985,961.4 982.6,961.6 H978" fill="none" stroke="#111" stroke-width="1.6"/>
<path d="M985,933.2 H1001.5 Q1004.5,933.6 1004.5,936.8 V953.8 Q1004.5,957 1001.5,957.3 H985 M999.6,933.6 V957 M1002,934.2 V956.6" fill="none" stroke="#111" stroke-width="1.5"/>
<path d="M978,945.7 H991.4" fill="none" stroke="#111" stroke-width="1.6"/>
<path d="M985,961.6 H1026.6" fill="none" stroke="#111" stroke-width="1.8"/>
<path d="M1033.2,982 H984.4 V1026.9 H1005.8" fill="none" stroke="#111" stroke-width="1.9"/>
<line x1="1019.9" y1="1020.6" x2="1096.4" y2="1020.6" stroke="#777" stroke-width="2.1" stroke-dasharray="7.4 4.1"/>
<line x1="1023.2" y1="1028.3" x2="1095.7" y2="1028.3" stroke="#777" stroke-width="2.1" stroke-dasharray="7.4 4.1"/>
<line x1="1025.2" y1="1035" x2="1091" y2="1035" stroke="#777" stroke-width="2.1" stroke-dasharray="7.4 4.1"/>
<line x1="1026.6" y1="1041.7" x2="1091" y2="1041.7" stroke="#777" stroke-width="2.1" stroke-dasharray="7.4 4.1"/>
<line x1="1029.3" y1="1048.7" x2="1083.6" y2="1048.7" stroke="#777" stroke-width="2.1" stroke-dasharray="7.4 4.1"/>
<line x1="1032.6" y1="1056" x2="1083.6" y2="1056" stroke="#777" stroke-width="2.1" stroke-dasharray="7.4 4.1"/>
<line x1="1038.7" y1="1063.6" x2="1078.3" y2="1063.6" stroke="#777" stroke-width="2.1" stroke-dasharray="7.4 4.1"/>
<!-- watermark strip -->
<rect x="101" y="1104.2" width="1240" height="18.6" fill="#f08122"/>
<text x="105" y="1119.2" font-family='"Liberation Sans", sans-serif' font-size="18" text-anchor="start" fill="#fff6e4"  stroke="#fff6e4" stroke-width="0.15">domostroi.by</text>
<text x="218.3" y="1119.2" font-family='"Liberation Sans", sans-serif' font-size="18" text-anchor="start" fill="#fff6e4"  stroke="#fff6e4" stroke-width="0.15">domostroi.by</text>
<text x="331.6" y="1119.2" font-family='"Liberation Sans", sans-serif' font-size="18" text-anchor="start" fill="#fff6e4"  stroke="#fff6e4" stroke-width="0.15">domostroi.by</text>
<text x="444.9" y="1119.2" font-family='"Liberation Sans", sans-serif' font-size="18" text-anchor="start" fill="#fff6e4"  stroke="#fff6e4" stroke-width="0.15">domostroi.by</text>
<text x="558.2" y="1119.2" font-family='"Liberation Sans", sans-serif' font-size="18" text-anchor="start" fill="#fff6e4"  stroke="#fff6e4" stroke-width="0.15">domostroi.by</text>
<text x="671.5" y="1119.2" font-family='"Liberation Sans", sans-serif' font-size="18" text-anchor="start" fill="#fff6e4"  stroke="#fff6e4" stroke-width="0.15">domostroi.by</text>
<text x="784.8" y="1119.2" font-family='"Liberation Sans", sans-serif' font-size="18" text-anchor="start" fill="#fff6e4"  stroke="#fff6e4" stroke-width="0.15">domostroi.by</text>
<text x="898.1" y="1119.2" font-family='"Liberation Sans", sans-serif' font-size="18" text-anchor="start" fill="#fff6e4"  stroke="#fff6e4" stroke-width="0.15">domostroi.by</text>
<text x="1011.4" y="1119.2" font-family='"Liberation Sans", sans-serif' font-size="18" text-anchor="start" fill="#fff6e4"  stroke="#fff6e4" stroke-width="0.15">domostroi.by</text>
<text x="1124.7" y="1119.2" font-family='"Liberation Sans", sans-serif' font-size="18" text-anchor="start" fill="#fff6e4"  stroke="#fff6e4" stroke-width="0.15">domostroi.by</text>
<text x="1238" y="1119.2" font-family='"Liberation Sans", sans-serif' font-size="18" text-anchor="start" fill="#fff6e4"  stroke="#fff6e4" stroke-width="0.15">domostroi.by</text>
</svg>
</body></html>
